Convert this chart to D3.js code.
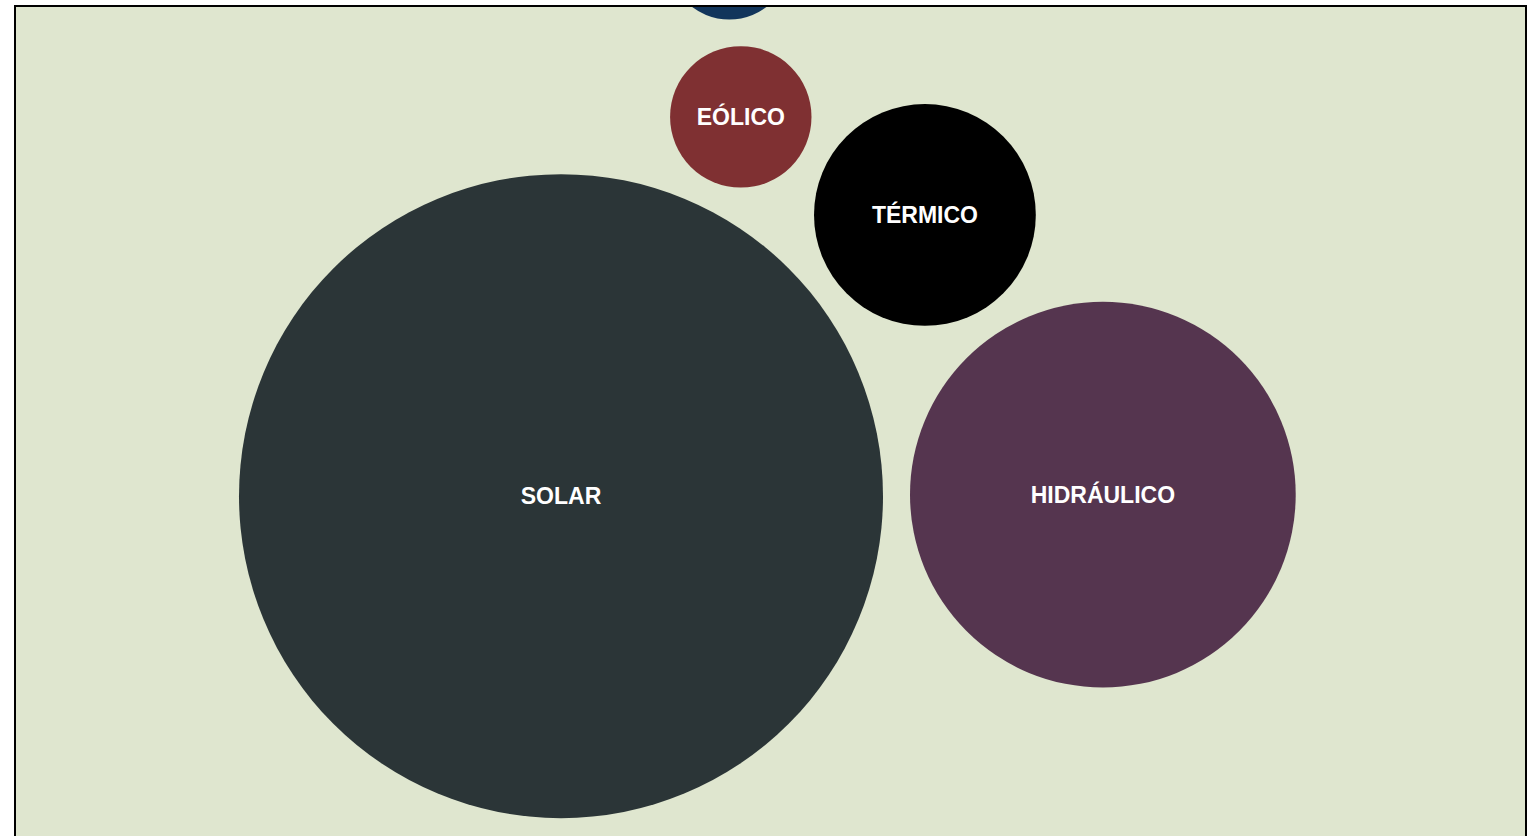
<!DOCTYPE html>
<html>
<head>
<meta charset="utf-8">
<script src="https://cdn.jsdelivr.net/npm/d3@7"></script>
<style>
  body { margin: 0; background: #fff; font-family: "Liberation Sans", Arial, sans-serif; }
  #chart { margin: 5px 0 0 14px; width: 1509px; height: 980px; border: 2px solid #000; background: #dfe6cf; }
</style>
</head>
<body>
<div id="chart"></div>
<script>
// data (estimated from circle areas)
const sources = ["SOLAR", "HIDRÁULICO", "TÉRMICO", "EÓLICO", "BIOMASA"];
const values = [1037, 372, 123, 50, 37];
const colors = ["#2b3537", "#55354f", "#000000", "#7f3032", "#12355b"];
// left-to-right order used to seed the simulation
const seedOrder = ["SOLAR", "BIOMASA", "EÓLICO", "TÉRMICO", "HIDRÁULICO"];

const width = 1509;
const height = 980;
const padding = 13.5;
const maxR = 322;

const nodes = sources.map((s, i) => ({ name: s, value: values[i], color: colors[i] }));

const rScale = d3.scaleSqrt()
  .domain([0, d3.max(values)])
  .range([0, maxR]);

const seedX = d3.scalePoint()
  .domain(seedOrder)
  .range([width * 0.33, width * 0.7]);

nodes.forEach(d => {
  d.r = rScale(d.value);
  d.x = seedX(d.name);
  d.y = height / 2 - (maxR - d.r);
});

const svg = d3
  .select("#chart")
  .append("svg")
  .attr("width", width)
  .attr("height", height);

// big bubbles pulled hard to the middle line, small ones float above
const sim = d3
  .forceSimulation(nodes)
  .force("x", d3.forceX(width * 0.473).strength(0.04))
  .force("y", d3.forceY(height / 2 - 2).strength(d => 0.95 * (d.r / maxR) ** 4 + 0.006))
  .force("collide", d3.forceCollide(d => d.r + padding).iterations(6))
  .alphaDecay(0.01)
  .stop();

for (let i = 0; i < 800; i++) sim.tick();

const bubble = svg
  .selectAll(".bubble")
  .data(nodes)
  .enter()
  .append("g")
  .attr("class", "bubble")
  .attr("transform", d => `translate(${d.x},${d.y})`);

bubble
  .append("circle")
  .attr("r", d => d.r)
  .attr("fill", d => d.color);

bubble
  .append("text")
  .attr("text-anchor", "middle")
  .attr("dy", "0.35em")
  .style("fill", "#fff")
  .style("font-weight", "bold")
  .style("font-size", "23px")
  .text(d => d.name);
</script>
</body>
</html>
